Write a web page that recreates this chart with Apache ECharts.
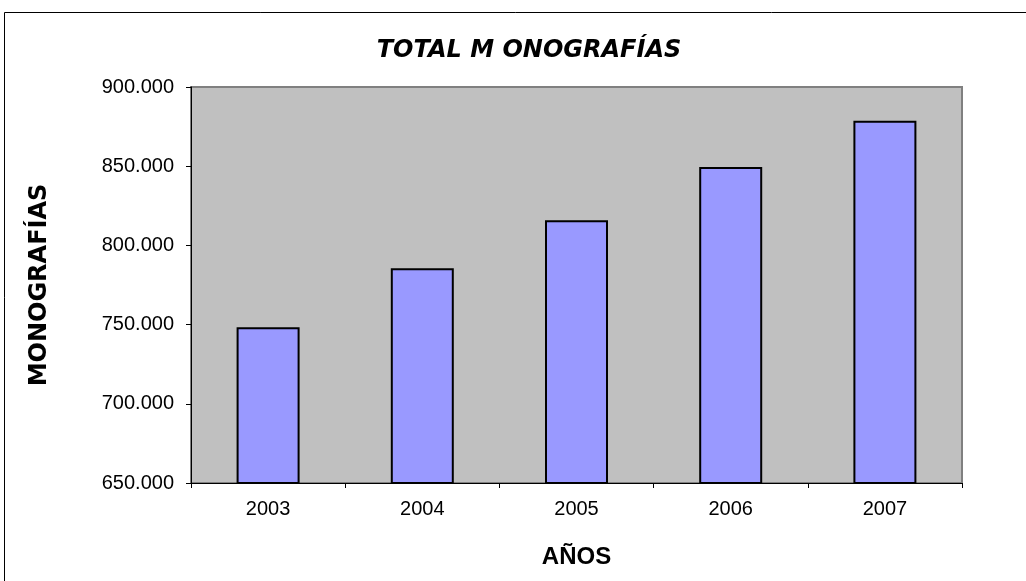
<!DOCTYPE html>
<html>
<head>
<meta charset="utf-8">
<script src="https://cdn.jsdelivr.net/npm/echarts@6/dist/echarts.min.js"></script>
<style>
  html, body { margin: 0; padding: 0; background: #fff; }
  #chart { width: 1026px; height: 581px; }
</style>
</head>
<body>
<div id="chart"></div>
<script>
const years = ['2003', '2004', '2005', '2006', '2007']
const monografias = [748300, 785500, 815800, 849500, 878700]
const yMin = 650000
const yMax = 900000
const yStep = 50000

// 900000 -> "900.000"
const fmt = (v) => String(v).replace(/\B(?=(\d{3})+(?!\d))/g, '.')

const chart = echarts.init(document.getElementById('chart'))

chart.setOption({
  backgroundColor: '#fff',
  animation: false,
  textStyle: { fontFamily: 'Liberation Sans, Arial, sans-serif' },
  title: {
    text: 'TOTAL M ONOGRAFÍAS',
    left: 524,
    top: 34,
    textAlign: 'center',
    textStyle: {
      fontFamily: 'DejaVu Sans',
      fontSize: 24,
      fontWeight: 'bold',
      fontStyle: 'italic',
      color: '#000'
    }
  },
  graphic: [
    {
      type: 'rect',
      shape: { x: 4.5, y: 12.5, width: 1030, height: 580 },
      style: { fill: 'none', stroke: '#000', lineWidth: 1 },
      silent: true
    }
  ],
  grid: {
    left: 191,
    right: 64,
    top: 87,
    bottom: 98,
    show: true,
    backgroundColor: '#C0C0C0',
    borderColor: '#808080',
    borderWidth: 2
  },
  xAxis: {
    type: 'category',
    data: years,
    name: 'AÑOS',
    nameLocation: 'middle',
    nameGap: 62,
    nameTextStyle: { fontSize: 24, fontWeight: 'bold', color: '#000' },
    axisLine: { lineStyle: { color: '#000', width: 1 } },
    axisTick: { show: true, length: 5, lineStyle: { color: '#000' } },
    axisLabel: { color: '#000', fontSize: 20, margin: 16 }
  },
  yAxis: {
    type: 'value',
    min: yMin,
    max: yMax,
    interval: yStep,
    name: 'MONOGRAFÍAS',
    nameLocation: 'middle',
    nameGap: 139,
    nameTextStyle: { fontFamily: 'DejaVu Sans', fontSize: 24, fontWeight: 'bold', color: '#000' },
    axisLine: { show: true, lineStyle: { color: '#000', width: 1 } },
    axisTick: { show: true, length: 5, lineStyle: { color: '#000' } },
    axisLabel: { color: '#000', fontSize: 20, margin: 17, formatter: fmt },
    splitLine: { show: false }
  },
  series: [
    {
      type: 'bar',
      data: monografias,
      barWidth: 63,
      itemStyle: { color: '#9999FF', borderColor: '#000', borderWidth: 2 }
    }
  ]
})
</script>
</body>
</html>
